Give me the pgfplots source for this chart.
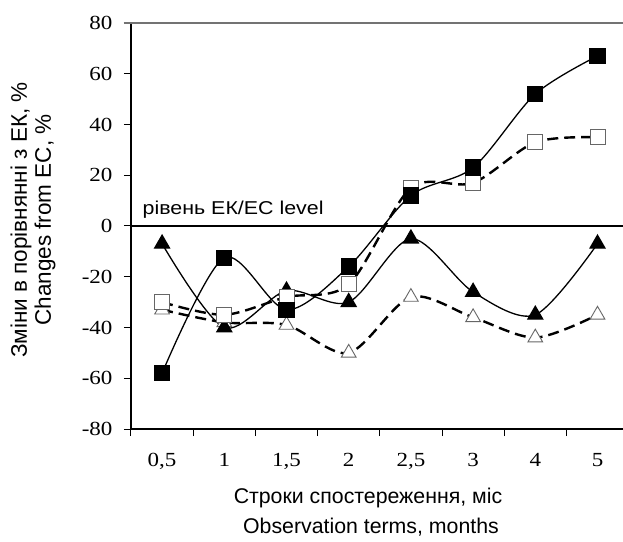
\documentclass[border=0pt]{standalone}
\usepackage{graphicx}
\usepackage{fontspec}
\setmainfont{Liberation Sans}
\newfontfamily\seriffont{Liberation Serif}
\usepackage{pgfplots}
\pgfplotsset{compat=1.18}
\newcommand\sx[1]{\scalebox{1.15}[1]{#1}}
\begin{document}
\begin{tikzpicture}
\begin{axis}[
  scale only axis, width=492pt, height=406pt,
  xmin=-0.5, xmax=7.41, ymin=-80, ymax=80,
  axis x line*=bottom, axis y line*=left,
  x axis line style={line width=2pt,-},
  y axis line style={line width=1.2pt,-},
  clip=false,
  tick align=outside,
  xtick={0,...,7},
  xticklabels={\sx{0,5},\sx{1},\sx{1,5},\sx{2},\sx{2,5},\sx{3},\sx{4},\sx{5}},
  major x tick style={draw=none},
  minor xtick={-0.5,0.5,...,6.5},
  minor tick length=7pt,
  major tick length=7pt,
  tick style={black, line width=1pt},
  ytick={-80,-60,...,80},
  yticklabels={\sx{-80},\sx{-60},\sx{-40},\sx{-20},\sx{0},\sx{20},\sx{40},\sx{60},\sx{80}},
  ticklabel style={font=\fontsize{20}{20}\seriffont},
  yticklabel style={xshift=-8pt},
  xticklabel style={yshift=-14pt},
  smooth, tension=0.5,
]
\coordinate (SW) at (rel axis cs:0,0);
\coordinate (NE) at (rel axis cs:1,1);
\coordinate (ML) at (rel axis cs:0,0.5);
\draw[line width=1.2pt, black!55] ([xshift=-7pt]rel axis cs:0,1) -- (rel axis cs:1,1);
\draw[line width=1.8pt] (axis cs:-0.5,0) -- (axis cs:7.41,0);

% open triangles dashed
\addplot[line width=2.4pt, dash pattern=on 11pt off 6pt, mark=triangle*, mark size=8.5pt,
  mark options={solid, fill=white, draw=black!60, line width=0.9pt}]
  coordinates {(0,-33) (1,-38) (2,-39) (3,-50) (4,-28) (5,-36) (6,-44) (7,-35)};
% filled triangles solid
\addplot[line width=1.3pt, mark=triangle*, mark size=8.5pt,
  mark options={solid, fill=black, draw=black}]
  coordinates {(0,-7) (1,-40) (2,-25.5) (3,-30) (4,-5) (5,-26) (6,-35) (7,-7)};
% open squares dashed
\addplot[line width=2.4pt, dash pattern=on 11pt off 6pt, mark=square*, mark size=7.5pt,
  mark options={solid, fill=white, draw=black!60, line width=0.9pt}]
  coordinates {(0,-30) (1,-35) (2,-28) (3,-23) (4,15) (5,17) (6,33) (7,35)};
% filled squares solid
\addplot[line width=1.3pt, mark=square*, mark size=7.5pt,
  mark options={solid, fill=black, draw=black}]
  coordinates {(0,-58) (1,-12.5) (2,-33) (3,-16) (4,12) (5,23) (6,52) (7,67)};

\node[anchor=base west, inner sep=0pt, font=\fontsize{18.6}{20}\selectfont]
  at ([xshift=11.5pt, yshift=11.7pt]axis cs:-0.5,0) {\sx{рівень ЕК/EC level}};
\end{axis}
\node[rotate=90, align=center, font=\fontsize{22.5}{24}\selectfont]
  at ([xshift=-98pt, yshift=6pt]ML) {Зміни в порівнянні з ЕК, \%\\Changes from EC, \%};
\node[anchor=base, inner sep=0pt, font=\fontsize{21.3}{23.5}\selectfont]
  at ([xshift=237pt, yshift=-74pt]SW) {Строки спостереження, міс};
\node[anchor=base, inner sep=0pt, font=\fontsize{21.3}{23.5}\selectfont]
  at ([xshift=240pt, yshift=-104pt]SW) {Observation terms, months};
\pgfresetboundingbox
\path ([shift={(-131pt,-112pt)}]SW) rectangle ([shift={(0pt,23pt)}]NE);
\end{tikzpicture}
\end{document}
